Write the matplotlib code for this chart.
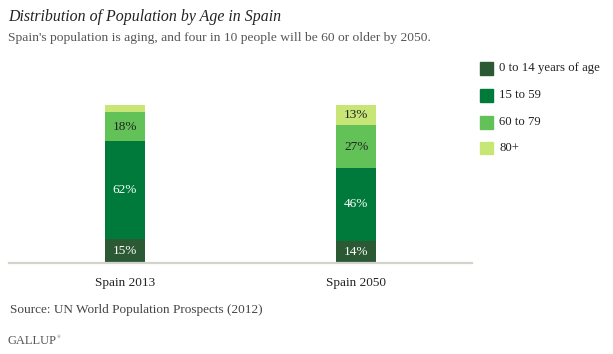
import matplotlib
matplotlib.use("Agg")
import matplotlib.pyplot as plt
from matplotlib.patches import Rectangle

categories = ["Spain 2013", "Spain 2050"]
groups = ["0 to 14 years of age", "15 to 59", "60 to 79", "80+"]
values = {
    "0 to 14 years of age": [15, 14],
    "15 to 59": [62, 46],
    "60 to 79": [18, 27],
    "80+": [5, 13],
}
labels = {
    "0 to 14 years of age": ["15%", "14%"],
    "15 to 59": ["62%", "46%"],
    "60 to 79": ["18%", "27%"],
    "80+": ["", "13%"],
}
colors = ["#2b5934", "#007a3b", "#62c257", "#c8e676"]
text_colors = ["white", "white", "#222222", "#222222"]

SERIF = ["Liberation Serif", "DejaVu Serif"]
plt.rcParams["font.family"] = SERIF

fig = plt.figure(figsize=(6.13, 3.54), dpi=100)
ax = fig.add_axes([9 / 613, 1 - 263 / 354, (472 - 9) / 613, (263 - 104.5) / 354])

x = list(range(len(categories)))
bottom = [0] * len(categories)
for g, c, tc in zip(groups, colors, text_colors):
    vals = values[g]
    ax.bar(x, vals, width=0.173, bottom=bottom, color=c, edgecolor="none", zorder=2)
    for i, (v, b, lab) in enumerate(zip(vals, bottom, labels[g])):
        if lab:
            ax.text(i, b + v / 2, lab, ha="center", va="center", color=tc,
                    fontsize=9.5, zorder=3)
    bottom = [b + v for b, v in zip(bottom, vals)]

ax.set_xlim(-0.5, 1.5)
ax.set_ylim(0, 100)
ax.set_xticks(x)
ax.set_xticklabels(categories, fontsize=9.5, color="#222222")
ax.tick_params(axis="x", length=0, pad=10)
ax.set_yticks([])
for s in ["top", "right", "left"]:
    ax.spines[s].set_visible(False)
ax.spines["bottom"].set_color("#d3d3cb")
ax.spines["bottom"].set_linewidth(1.6)
ax.spines["bottom"].set_zorder(4)

# Title and subtitle
fig.text(8 / 613, 1 - 17 / 354, "Distribution of Population by Age in Spain",
         fontsize=11.4, style="italic", color="#222222", va="center", ha="left")
fig.text(8 / 613, 1 - 38 / 354,
         "Spain's population is aging, and four in 10 people will be 60 or older by 2050.",
         fontsize=9.7, color="#555555", va="center", ha="left")

# Legend
leg_y = [68, 95, 122, 148]
for g, c, yy in zip(groups, colors, leg_y):
    fig.patches.append(Rectangle((480 / 613, 1 - (yy + 6.5) / 354), 12.5 / 613, 12.5 / 354,
                                 transform=fig.transFigure, color=c, figure=fig))
    fig.text(499 / 613, 1 - yy / 354, g, fontsize=9.2, color="#222222",
             va="center", ha="left")

fig.text(10 / 613, 1 - 310 / 354, "Source: UN World Population Prospects (2012)",
         fontsize=9.5, color="#444444", va="center", ha="left")
fig.text(7 / 613, 1 - 341 / 354, "GALLUP", fontsize=9, color="#555555",
         va="center", ha="left")
fig.text(57 / 613, 1 - 337 / 354, "\u00ae", fontsize=3.5, color="#555555",
         va="center", ha="left")

fig.savefig("out.png", dpi=100)
